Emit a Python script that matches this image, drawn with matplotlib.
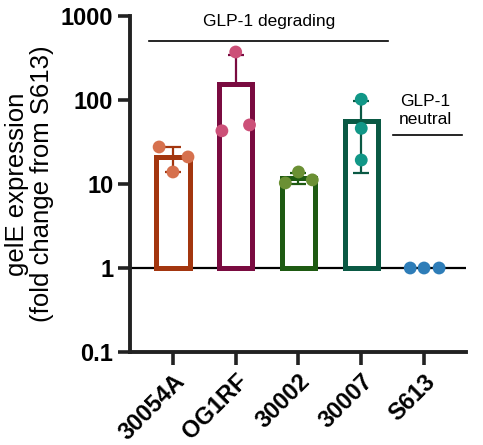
import matplotlib
matplotlib.use("Agg")
import matplotlib.pyplot as plt
import numpy as np

plt.rcParams['font.family'] = ['Liberation Sans', 'DejaVu Sans']

strains = ["30054A", "OG1RF", "30002", "30007", "S613"]
replicates = [
    [27.6, 13.9, 21.0],
    [43.0, 373.0, 50.5],
    [10.3, 13.9, 11.2],
    [102.0, 46.0, 19.3],
    [1.0, 1.0, 1.0],
]
edge_colors = ["#A3360F", "#7A0B40", "#1E5A12", "#0A5944", "#2E7DB8"]
point_colors = ["#D6714E", "#CC5078", "#6B9034", "#119787", "#2E7DB8"]
jitter = [[-0.22, 0.0, 0.24], [-0.22, 0.0, 0.22], [-0.21, 0.0, 0.22],
          [0.0, 0.0, 0.0], [-0.22, 0.0, 0.24]]
yticks = [0.1, 1, 10, 100, 1000]
ytick_labels = ["0.1", "1", "10", "100", "1000"]

fig = plt.figure(figsize=(4.83, 4.45), dpi=100)
ax = fig.add_axes([0.269, 0.209, 0.696, 0.755])
ax.set_yscale('log')
ax.set_ylim(0.1, 1000)
ax.set_xlim(-0.685, 4.67)

x = np.arange(len(strains))
means = [np.mean(r) for r in replicates]
sds = [np.std(r, ddof=1) for r in replicates]

ax.axhline(1, color='black', lw=1.6, zorder=2)

for i in range(len(strains)):
    if means[i] > 1.0001:
        ax.bar(x[i], means[i] - 1, bottom=1, width=0.53, facecolor='white',
               edgecolor=edge_colors[i], linewidth=3.6, zorder=3)
        lower = sds[i] if means[i] - sds[i] > 1 else 0
        ax.errorbar(x[i], means[i], yerr=[[lower], [sds[i]]], color=edge_colors[i],
                    capsize=6, elinewidth=1.6, capthick=1.6, fmt='none', zorder=4)
    xs = [x[i] + j for j in jitter[i]]
    ax.scatter(xs, replicates[i], s=85, color=point_colors[i], zorder=5,
               edgecolors='none', clip_on=False)

ax.set_yticks(yticks)
ax.set_yticklabels(ytick_labels, fontsize=17, fontweight='bold')
ax.yaxis.set_minor_locator(matplotlib.ticker.NullLocator())
ax.set_xticks(x)
ax.set_xticklabels(strains, fontsize=17, fontweight='bold', rotation=45,
                   ha='right', rotation_mode='anchor')
ax.tick_params(axis='both', width=2.6, length=9, color='#222222')
ax.tick_params(axis='x', pad=4)
ax.tick_params(axis='y', pad=3)

for s in ['top', 'right']:
    ax.spines[s].set_visible(False)
for s in ['left', 'bottom']:
    ax.spines[s].set_linewidth(2.8)
    ax.spines[s].set_color('#222222')

ax.set_ylabel("gelE expression\n(fold change from S613)", fontsize=18.5, labelpad=5,
              linespacing=1.05)

# group annotations
ax.plot([-0.38, 3.43], [510, 510], color='black', lw=1.2, clip_on=False)
ax.text(1.53, 850, "GLP-1 degrading", ha='center', va='center', fontsize=12.5)
ax.plot([3.5, 4.6], [38, 38], color='black', lw=1.2, clip_on=False)
ax.text(4.02, 75, "GLP-1\nneutral", ha='center', va='center', fontsize=12.5,
        linespacing=1.3)

fig.savefig("out.png", dpi=100)
